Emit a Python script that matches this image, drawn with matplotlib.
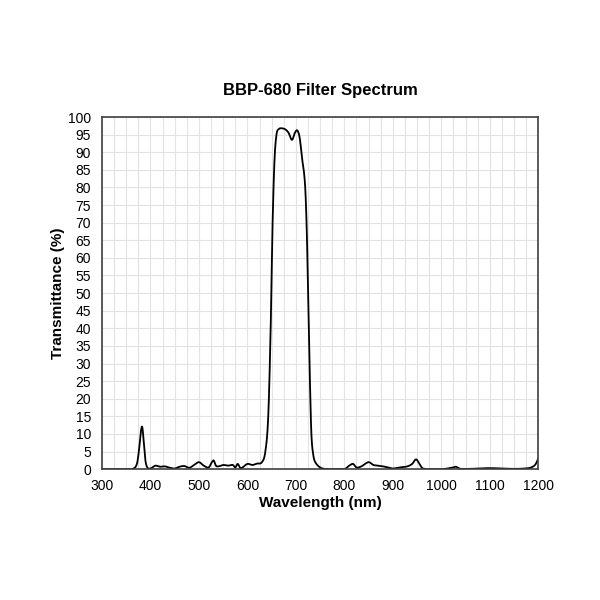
import numpy as np
import matplotlib.pyplot as plt

# values
wavelength = [300, 350, 365, 372, 376, 380, 383, 386, 389, 393, 400, 410, 420, 430, 440, 450,
              460, 470, 480, 490, 500, 510, 520, 530, 535, 540, 550, 560, 570, 575, 580, 586,
              600, 610, 620, 630, 637, 643, 648, 652, 656, 660, 664, 670, 678, 685, 692, 698,
              703, 708, 713, 717, 720, 723, 726, 729, 732, 736, 740, 750, 760, 800, 810, 818,
              825, 835, 850, 860, 870, 880, 890, 900, 910, 920, 930, 940, 948, 955, 962, 1000,
              1025, 1030, 1040, 1100, 1150, 1180, 1190, 1195, 1200]
transmittance = [0, 0, 0.2, 1.5, 5, 10.5, 12, 8, 3, 0.6, 0.2, 1.0, 0.7, 0.8, 0.4, 0.2,
                 0.7, 0.9, 0.4, 1.2, 2.0, 1.0, 0.5, 2.5, 1.0, 0.8, 1.2, 1.0, 1.2, 0.5, 1.5, 0.3,
                 1.5, 1.2, 1.6, 2.0, 5, 15, 40, 70, 88, 95, 96.5, 96.8, 96.5, 95.5, 93.5, 95.5,
                 96.2, 94, 88, 84, 78, 65, 45, 25, 10, 4, 2, 0.5, 0.1, 0, 1.0, 1.5,
                 0.5, 0.8, 2.0, 1.2, 1.0, 0.8, 0.5, 0.2, 0.4, 0.6, 0.8, 1.5, 2.8, 1.5, 0.2, 0,
                 0.5, 0.7, 0.1, 0.3, 0.1, 0.3, 0.8, 1.5, 3.0]


def catmull_rom(x, y, n=12):
    # smooth curve through the read points
    x = np.asarray(x, float)
    y = np.asarray(y, float)
    xs, ys = [], []
    for i in range(len(x) - 1):
        p0 = max(i - 1, 0)
        p3 = min(i + 2, len(x) - 1)
        t = np.linspace(0, 1, n, endpoint=False)
        m1 = (y[i + 1] - y[p0]) / (x[i + 1] - x[p0]) * (x[i + 1] - x[i])
        m2 = (y[p3] - y[i]) / (x[p3] - x[i]) * (x[i + 1] - x[i])
        h00 = 2 * t**3 - 3 * t**2 + 1
        h10 = t**3 - 2 * t**2 + t
        h01 = -2 * t**3 + 3 * t**2
        h11 = t**3 - t**2
        xs.append(x[i] + t * (x[i + 1] - x[i]))
        ys.append(h00 * y[i] + h10 * m1 + h01 * y[i + 1] + h11 * m2)
    xs.append([x[-1]])
    ys.append([y[-1]])
    return np.concatenate(xs), np.clip(np.concatenate(ys), 0, None)


plt.rcParams['font.family'] = ['Liberation Sans', 'DejaVu Sans']

fig = plt.figure(figsize=(6, 6), dpi=100)
ax = fig.add_axes([0.17, 0.218, 0.727, 0.587])

xs, ys = catmull_rom(wavelength, transmittance)
ax.plot(xs, ys, color='black', lw=1.3)

ax.set_xlim(300, 1200)
ax.set_ylim(0, 100)
ax.set_xticks(np.arange(300, 1201, 100))
ax.set_yticks(np.arange(0, 101, 5))
ax.set_xticks(np.arange(300, 1201, 25), minor=True)
ax.grid(which='both', axis='x', color='#e3e3e3', lw=0.8)
ax.grid(which='major', axis='y', color='#e3e3e3', lw=0.8)
ax.tick_params(which='both', length=0, labelsize=10)
ax.tick_params(axis='x', pad=7)
ax.tick_params(axis='y', pad=8)
for s in ax.spines.values():
    s.set_color('#404040')
    s.set_linewidth(1.2)

ax.set_xlabel('Wavelength (nm)', fontsize=11, fontweight='bold', labelpad=2)
ax.set_ylabel('Transmittance (%)', fontsize=11, fontweight='bold', labelpad=2)
ax.set_title('BBP-680 Filter Spectrum', fontsize=12, fontweight='bold', pad=16)

fig.savefig('out.png', dpi=100)
